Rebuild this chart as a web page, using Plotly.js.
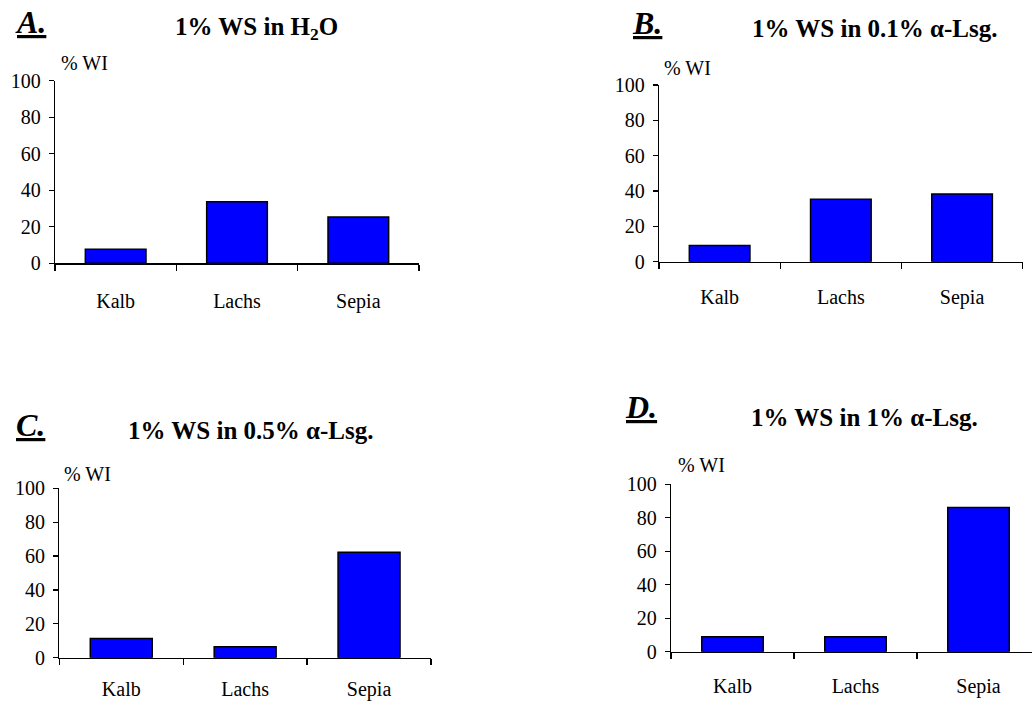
<!DOCTYPE html>
<html>
<head>
<meta charset="utf-8">
<script src="https://cdn.plot.ly/plotly-3.0.1.min.js"></script>
<style>
  html, body { margin: 0; padding: 0; background: #fff; }
  #chart { width: 1032px; height: 704px; }
</style>
</head>
<body>
<div id="chart"></div>
<script>
// ---- data ----
const categories = ['Kalb', 'Lachs', 'Sepia'];
const valuesA = [7.7, 33.7, 25.3];
const valuesB = [9.1, 35.3, 38.3];
const valuesC = [11.4, 6.5, 62.2];
const valuesD = [9.0, 9.0, 86.1];
const panelLetters = ['A.', 'B.', 'C.', 'D.'];
const panelTitles = [
  '1% WS in H<sub>2</sub>O',
  '1% WS in 0.1% α-Lsg.',
  '1% WS in 0.5% α-Lsg.',
  '1% WS in 1% α-Lsg.'
];
const yTickVals = [0, 20, 40, 60, 80, 100];
const yLabel = '% WI';

// ---- layout helpers (pixel -> paper) ----
const W = 1032, H = 704;
const px = x => x / W;
const py = y => 1 - y / H;
const FONT = 'Liberation Serif';

// plot boxes: [left, right, top(y=100), bottom(y=0)] in pixels
const boxes = [
  [55, 419, 80.7, 263.3],
  [659, 1022.7, 85, 261.7],
  [59.3, 431, 488.3, 657.7],
  [671, 1040, 484.3, 651.7]
];
// gap between x ticks and category labels per panel
const xLabelStandoff = [19, 17, 13, 16];

const series = [valuesA, valuesB, valuesC, valuesD];
const data = series.map((vals, i) => ({
  type: 'bar',
  x: categories,
  y: vals,
  width: 0.5,
  xaxis: i === 0 ? 'x' : 'x' + (i + 1),
  yaxis: i === 0 ? 'y' : 'y' + (i + 1),
  marker: { color: '#0000FF', line: { color: '#000', width: 1.5 } },
  hoverinfo: 'x+y',
  showlegend: false
}));

const layout = {
  width: W, height: H,
  margin: { l: 0, r: 0, t: 0, b: 0 },
  paper_bgcolor: '#fff',
  plot_bgcolor: 'rgba(0,0,0,0)',
  font: { family: FONT, size: 18, color: '#000' },
  annotations: [],
  showlegend: false
};

boxes.forEach((b, i) => {
  const [l, r, t, bt] = b;
  const sfx = i === 0 ? '' : String(i + 1);
  const catW = (r - l) / 3;
  const rightEdge = Math.min(r, W);
  const xmax = -0.5 + (rightEdge - l) / catW;
  layout['xaxis' + sfx] = {
    domain: [px(l), px(rightEdge)],
    anchor: 'y' + sfx,
    type: 'category',
    range: [-0.5, xmax],
    showline: true, linecolor: '#000', linewidth: 1.3,
    ticks: 'outside', ticklen: 6, tickcolor: '#000', tickwidth: 1.3,
    tickson: 'boundaries',
    showgrid: false, zeroline: false,
    ticklabelstandoff: xLabelStandoff[i],
    tickfont: { family: FONT, size: 20, color: '#000' },
    fixedrange: true
  };
  layout['yaxis' + sfx] = {
    domain: [py(bt), py(t)],
    anchor: 'x' + sfx,
    range: [0, 100],
    tickvals: yTickVals,
    showline: true, linecolor: '#000', linewidth: 1.3,
    ticks: 'outside', ticklen: 5, tickcolor: '#000', tickwidth: 1.3,
    showgrid: false, zeroline: false,
    ticklabelstandoff: 4,
    tickfont: { family: FONT, size: 20, color: '#000' },
    fixedrange: true
  };
});

// panel letters: [left x, center y]
const letterPos = [[13, 22], [630, 23], [14, 425], [623, 407]];
// titles: [center x, center y]
const titlePos = [[256, 28], [874, 29], [250, 430], [864, 417]];
// "% WI" labels: [left x, center y]
const yLabPos = [[59, 63], [662, 68], [62, 474], [676, 465]];

for (let i = 0; i < 4; i++) {
  layout.annotations.push({
    xref: 'paper', yref: 'paper',
    x: px(letterPos[i][0]), y: py(letterPos[i][1]),
    xanchor: 'left', yanchor: 'middle',
    text: '<b><i><u>' + panelLetters[i] + '</u></i></b>',
    showarrow: false,
    font: { family: FONT, size: 32, color: '#000' }
  });
  layout.annotations.push({
    xref: 'paper', yref: 'paper',
    x: px(titlePos[i][0]), y: py(titlePos[i][1]),
    xanchor: 'center', yanchor: 'middle',
    text: '<b>' + panelTitles[i] + '</b>',
    showarrow: false,
    font: { family: FONT, size: 25, color: '#000' }
  });
  layout.annotations.push({
    xref: 'paper', yref: 'paper',
    x: px(yLabPos[i][0]), y: py(yLabPos[i][1]),
    xanchor: 'left', yanchor: 'middle',
    text: yLabel,
    showarrow: false,
    font: { family: FONT, size: 20, color: '#000' }
  });
}

Plotly.newPlot('chart', data, layout, { displayModeBar: false, staticPlot: true });
</script>
</body>
</html>
